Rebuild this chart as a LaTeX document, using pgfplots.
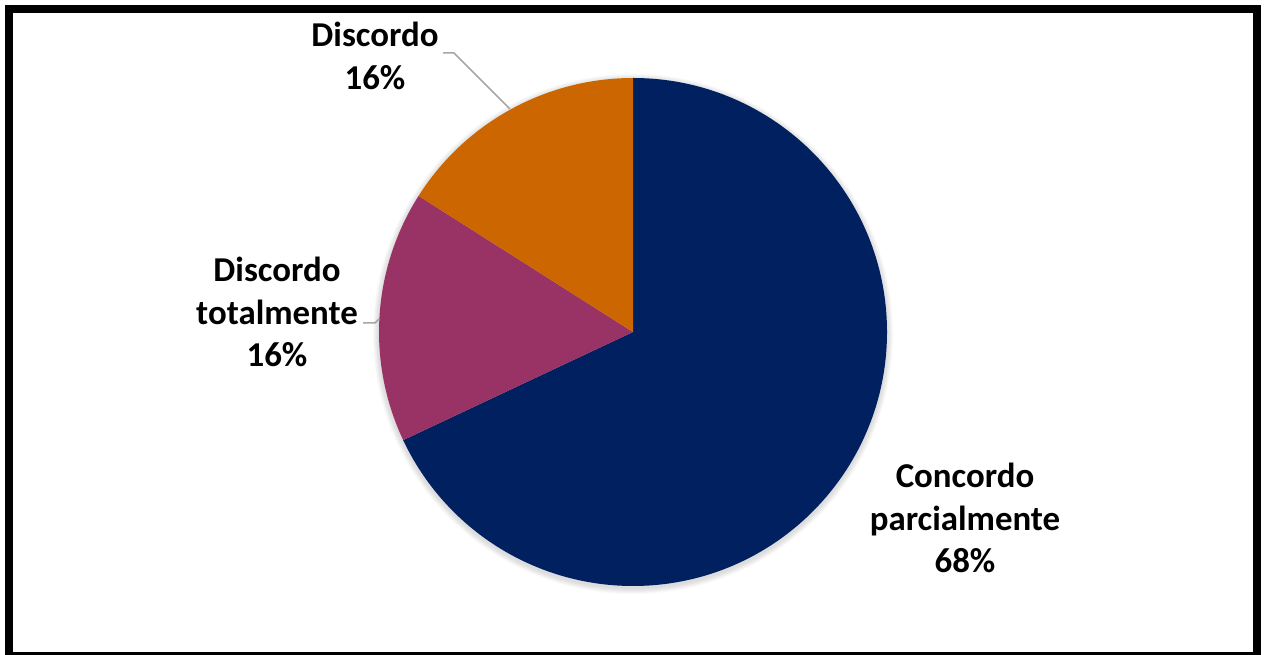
\documentclass[border=0pt]{standalone}
\usepackage{pgfplots}
\pgfplotsset{compat=1.18}
\usepackage{pgfplotstable}
\usepackage{fontspec}
\setmainfont{Carlito}

\definecolor{cNavy}{RGB}{0,32,96}
\definecolor{cPurple}{RGB}{153,51,102}
\definecolor{cOrange}{RGB}{204,102,0}
\definecolor{cLeader}{RGB}{166,166,166}

% pie shares (%), clockwise from 12 o'clock
\pgfplotstableread{
label value
ConcordoParc 68
DiscordoTot 16
Discordo 16
}\piedata

\begin{document}
\begin{tikzpicture}
\pgfplotstablegetelem{0}{value}\of\piedata \let\va\pgfplotsretval
\pgfplotstablegetelem{1}{value}\of\piedata \let\vb\pgfplotsretval
\pgfplotstablegetelem{2}{value}\of\piedata \let\vc\pgfplotsretval
\pgfmathsetmacro{\aA}{90}
\pgfmathsetmacro{\aB}{\aA-3.6*\va}
\pgfmathsetmacro{\aC}{\aB-3.6*\vb}
\pgfmathsetmacro{\aD}{\aC-3.6*\vc}
\begin{axis}[
    width=1265bp, height=655bp,
    scale only axis,
    xmin=0, xmax=1265, ymin=0, ymax=655,
    hide axis,
    clip=false,
]
% soft shadow under the pie
\pgfplotsinvokeforeach{255,256,...,260}{
  \fill[black, opacity=0.025] (axis cs:633,321) circle[radius=#1bp];
}
% slices
\fill[cNavy] (axis cs:633,323) -- ++(\aA:254bp) arc[start angle=\aA, end angle=\aB, radius=254bp] -- cycle;
\fill[cPurple] (axis cs:633,323) -- ++(\aB:254bp) arc[start angle=\aB, end angle=\aC, radius=254bp] -- cycle;
\fill[cOrange] (axis cs:633,323) -- ++(\aC:254bp) arc[start angle=\aC, end angle=\aD, radius=254bp] -- cycle;

% leader lines
\draw[cLeader, line width=1.5bp] (axis cs:443,602) -- (axis cs:454,602) -- (axis cs:510,546);
\draw[cLeader, line width=1.5bp] (axis cs:363,332) -- (axis cs:375,332) -- (axis cs:379,336);

% data labels
\tikzset{lbl/.style={align=center, inner sep=0pt, font=\fontsize{35}{43}\selectfont\bfseries}}
\node[lbl] at (axis cs:965,137) {Concordo\\parcialmente\\68\%};
\node[lbl] at (axis cs:277,343) {Discordo\\totalmente\\16\%};
\node[lbl] at (axis cs:375,599) {Discordo\\16\%};

% chart frame
\draw[black, line width=8bp] (axis cs:9,646) rectangle (axis cs:1256.5,-1);
\end{axis}
\pgfresetboundingbox
\path[use as bounding box] (current axis.south west) rectangle (current axis.north east);
\end{tikzpicture}
\end{document}
